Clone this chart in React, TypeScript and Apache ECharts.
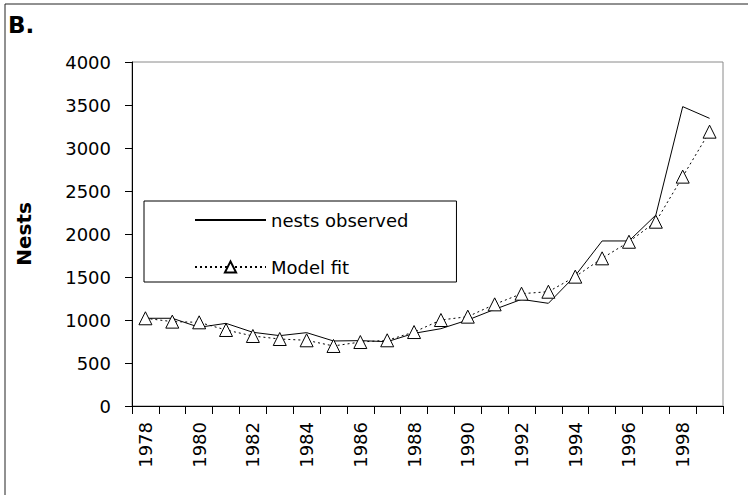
import React, { useEffect, useRef } from "react";
import * as echarts from "echarts";

const years = ["1978","1979","1980","1981","1982","1983","1984","1985","1986","1987","1988","1989","1990","1991","1992","1993","1994","1995","1996","1997","1998","1999"];
const nestsObserved = [1020, 1020, 915, 961, 857, 818, 853, 756, 760, 748, 845, 899, 1000, 1124, 1240, 1194, 1515, 1919, 1919, 2220, 3481, 3345];
const modelFit = [1020, 981, 973, 884, 814, 779, 764, 698, 744, 764, 860, 1000, 1039, 1182, 1306, 1329, 1504, 1717, 1910, 2143, 2667, 3190];

const FONT = "DejaVu Sans";

export default function App() {
  const ref = useRef<HTMLDivElement>(null);
  useEffect(() => {
    if (!ref.current) return;
    const chart = echarts.init(ref.current, null, { renderer: "svg" });
    chart.setOption({
      animation: false,
      backgroundColor: "#ffffff",
      textStyle: { fontFamily: FONT, color: "#000" },
      grid: {
        left: 132, right: 25, top: 62, bottom: 89,
        show: true, borderColor: "#8a8a8a", borderWidth: 1, backgroundColor: "transparent",
      },
      graphic: [
        {
          type: "rect",
          shape: { x: 5, y: 4, width: 760, height: 510 },
          style: { fill: "none", stroke: "#222", lineWidth: 1 },
          silent: true,
        },
        {
          type: "text",
          style: { text: "B.", x: 8, y: 25, font: `bold 23px "${FONT}"`, fill: "#000", verticalAlign: "middle", align: "left" },
        },
      ],
      legend: {
        orient: "vertical",
        left: 144,
        top: 201,
        padding: [10, 48, 6, 50],
        itemGap: 29,
        itemWidth: 71,
        itemHeight: 14,
        borderColor: "#000",
        borderWidth: 1,
        backgroundColor: "#fff",
        textStyle: { fontFamily: FONT, fontSize: 18, color: "#000" },
        data: ["nests observed", "Model fit"],
      },
      xAxis: {
        type: "category",
        data: years,
        boundaryGap: true,
        axisLine: { lineStyle: { color: "#000", width: 1 } },
        axisTick: { show: true, interval: 0, length: 8, lineStyle: { color: "#000" } },
        axisLabel: { interval: 1, rotate: 90, margin: 16, fontFamily: FONT, fontSize: 18, color: "#000" },
        splitLine: { show: false },
      },
      yAxis: {
        type: "value",
        min: 0,
        max: 4000,
        interval: 500,
        name: "Nests",
        nameLocation: "middle",
        nameRotate: 90,
        nameGap: 98,
        nameTextStyle: { fontFamily: FONT, fontSize: 20, fontWeight: "bold", color: "#000" },
        axisLine: { show: true, lineStyle: { color: "#000", width: 1 } },
        axisTick: { show: true, length: 7, lineStyle: { color: "#000" } },
        axisLabel: { margin: 21, fontFamily: FONT, fontSize: 18, color: "#000", formatter: (v: number) => String(v) },
        splitLine: { show: false },
      },
      series: [
        {
          name: "nests observed",
          type: "line",
          data: nestsObserved,
          symbol: "none",
          lineStyle: { color: "#000", width: 1, type: "solid" },
          itemStyle: { color: "transparent", borderColor: "transparent", borderWidth: 0 },
          z: 2,
        },
        {
          name: "Model fit",
          type: "line",
          data: modelFit,
          symbol: "triangle",
          symbolSize: 13,
          lineStyle: { color: "#000", width: 1, type: [2, 3] },
          itemStyle: { color: "#fff", borderColor: "#000", borderWidth: 1 },
          z: 3,
        },
      ],
    });
    return () => chart.dispose();
  }, []);
  return <div ref={ref} style={{ position: "fixed", left: 0, top: 0, width: 748, height: 495 }} />;
}
